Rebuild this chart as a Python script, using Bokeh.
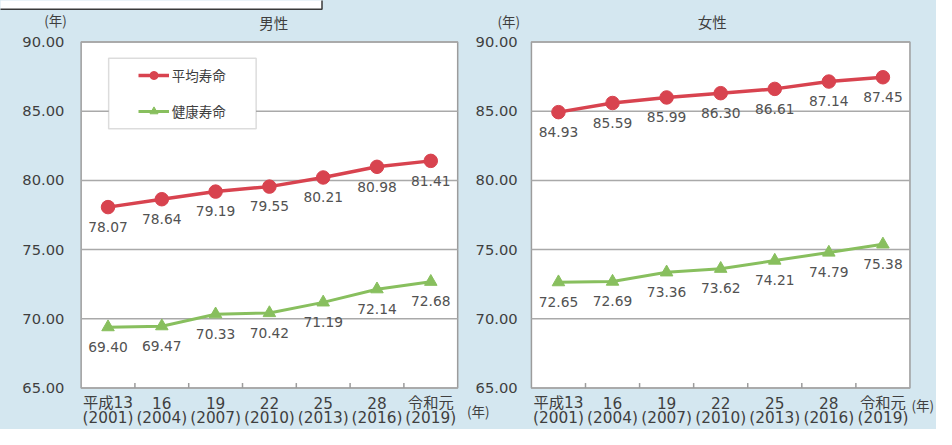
from bokeh.plotting import figure
from bokeh.models import Range1d, ColumnDataSource, BoxAnnotation, Legend, LegendItem
from bokeh.layouts import row
from bokeh.embed import file_html
from bokeh.resources import INLINE
from bokeh.core.properties import value

# ---------------- data ----------------
era_labels = ["平成13", "16", "19", "22", "25", "28", "令和元"]
year_labels = ["(2001)", "(2004)", "(2007)", "(2010)", "(2013)", "(2016)", "(2019)"]
male_life = [78.07, 78.64, 79.19, 79.55, 80.21, 80.98, 81.41]
male_healthy = [69.40, 69.47, 70.33, 70.42, 71.19, 72.14, 72.68]
female_life = [84.93, 85.59, 85.99, 86.30, 86.61, 87.14, 87.45]
female_healthy = [72.65, 72.69, 73.36, 73.62, 74.21, 74.79, 75.38]
y_ticks = [65, 70, 75, 80, 85, 90]
series_names = ["平均寿命", "健康寿命"]
panel_titles = ["男性", "女性"]
unit_label = "(年)"

# ---------------- style / geometry ----------------
BG = "#d4e7f0"
RED = "#d8434f"
GREEN = "#88bf5e"
TXT = "#3f3f3f"
VAL = "#525252"
FRAME = "#9c9c9c"
NUM_FONT = "DejaVu Sans"
JP_FONT = "Noto Sans CJK JP"
MIX_FONT = "DejaVu Sans, Noto Sans CJK JP"

W, H = 936, 429
SX = W / 952.0
SY = H / 445.0
N = len(era_labels)
Y0, Y1 = y_ticks[0], y_ticks[-1]


def FX(rx):
    return rx * SX


def FY(ry):
    return ry * SY


def make_panel(title, life, healthy, px0, px1, frame_l, frame_r, ylab_right,
               title_pos, unit_top, units_bottom=(), legend=False, top_box=False):
    ux = (FX(frame_r) - FX(frame_l)) / N
    uy = (FY(402) - FY(43)) / (Y1 - Y0)

    def xd(rx):
        return (FX(rx) - FX(frame_l)) / ux

    def yd(ry):
        return Y1 - (FY(ry) - FY(43)) / uy

    p = figure(width=px1 - px0, height=H, output_backend="svg", toolbar_location=None,
               x_range=Range1d((px0 - FX(frame_l)) / ux, (px1 - FX(frame_l)) / ux),
               y_range=Range1d(Y1 - (H - FY(43)) / uy, Y1 + FY(43) / uy),
               x_axis_location=None, y_axis_location=None, min_border=0)
    p.border_fill_color = BG
    p.background_fill_color = BG
    p.outline_line_color = None
    p.grid.visible = False

    if top_box:
        # white strip of the scanned page at the top-left corner
        p.quad(left=[xd(-5)], right=[xd(327)], bottom=[yd(9)], top=[yd(-5)],
               fill_color="white", line_color="#3a3a3a", line_width=1.5)

    # plot area
    p.quad(left=[0], right=[N], bottom=[Y0], top=[Y1], fill_color="white",
           line_color=FRAME, line_width=1.5)
    # horizontal grid lines
    p.segment(x0=[0] * len(y_ticks), x1=[N] * len(y_ticks), y0=y_ticks, y1=y_ticks,
              line_color="#a9a9a9", line_width=1.5)
    # inner tick marks between categories
    p.segment(x0=list(range(1, N)), x1=list(range(1, N)), y0=[Y0] * (N - 1),
              y1=[Y0 + 5 / uy] * (N - 1), line_color=FRAME, line_width=1.5)

    # y tick labels
    p.text(x=[xd(ylab_right)] * len(y_ticks), y=y_ticks, text=["%.2f" % t for t in y_ticks],
           text_font=value(NUM_FONT), text_font_size=value("14.7px"), text_color=TXT,
           text_align="right", text_baseline="middle")

    # category labels (two lines)
    centers = [i + 0.5 for i in range(N)]
    p.text(x=centers, y=[yd(417)] * N, text=era_labels,
           text_font=value(MIX_FONT), text_font_size=value("15.3px"), text_color=TXT,
           text_align="center", text_baseline="middle")
    p.text(x=centers, y=[yd(433)] * N, text=year_labels,
           text_font=value(NUM_FONT), text_font_size=value("15.3px"), text_color=TXT,
           text_align="center", text_baseline="middle")

    # series
    off = 20.5 * SY / uy
    src = ColumnDataSource(dict(
        x=centers, life=life, healthy=healthy,
        life_lab=[v - off for v in life], healthy_lab=[v - off for v in healthy],
        life_txt=["%.2f" % v for v in life], healthy_txt=["%.2f" % v for v in healthy]))
    l1 = p.line("x", "life", source=src, line_color=RED, line_width=3.5)
    s1 = p.scatter("x", "life", source=src, marker="circle", size=13.5,
                   fill_color=RED, line_color=RED)
    l2 = p.line("x", "healthy", source=src, line_color=GREEN, line_width=3)
    s2 = p.scatter("x", "healthy", source=src, marker="triangle", size=12.5,
                   fill_color=GREEN, line_color=GREEN)
    for f, t in (("life_lab", "life_txt"), ("healthy_lab", "healthy_txt")):
        p.text("x", f, text=t, source=src, text_font=value(NUM_FONT),
               text_font_size=value("13.8px"), text_color=VAL,
               text_align="center", text_baseline="middle")

    # title
    p.text(x=[xd(title_pos[0])], y=[yd(title_pos[1])], text=[title],
           text_font=value(JP_FONT), text_font_size=value("14.5px"), text_color=TXT,
           text_align="center", text_baseline="middle")
    # unit labels
    ups = [unit_top] + list(units_bottom)
    p.text(x=[xd(u[0]) for u in ups], y=[yd(u[1]) for u in ups], text=[unit_label] * len(ups),
           text_font=value(JP_FONT), text_font_size=value("13.5px"), text_color=TXT,
           text_align="center", text_baseline="middle")

    if legend:
        p.add_layout(BoxAnnotation(left=xd(110), right=xd(260), top=yd(60), bottom=yd(133),
                                   fill_color="white", fill_alpha=1.0,
                                   line_color="#8a8a8a", line_width=1.5))
        lg = Legend(items=[LegendItem(label=series_names[0], renderers=[l1, s1]),
                           LegendItem(label=series_names[1], renderers=[l2, s2])],
                    location=(FX(140) - px0, H - FY(126)),
                    padding=0, margin=0, spacing=16, glyph_width=31, glyph_height=20,
                    label_standoff=3, background_fill_alpha=0, border_line_alpha=0,
                    label_text_font=JP_FONT, label_text_font_size="13.5px",
                    label_text_color=TXT)
        p.add_layout(lg)
    return p


SPLIT = round(FX(470))
p1 = make_panel(panel_titles[0], male_life, male_healthy, 0, SPLIT, 82, 465, 65,
                (278, 23), (56, 20), legend=True, top_box=True)
p2 = make_panel(panel_titles[1], female_life, female_healthy, SPLIT, W, 540, 925, 526,
                (724, 22), (517, 21), units_bottom=((486, 426), (938, 420)))

layout = row(p1, p2, spacing=0, styles={"background-color": BG})
open("out.html", "w").write(file_html(layout, INLINE))
